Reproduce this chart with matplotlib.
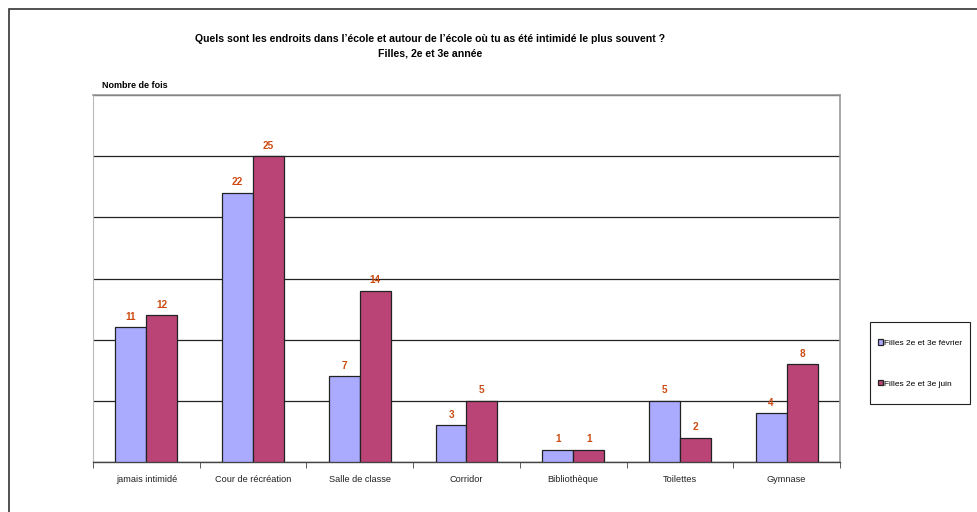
import matplotlib
matplotlib.use("Agg")
import matplotlib.pyplot as plt
import numpy as np
from matplotlib.patches import Rectangle

plt.rcParams['font.family'] = ['Liberation Sans', 'DejaVu Sans']

categories = ["jamais intimidé", "Cour de récréation", "Salle de classe", "Corridor",
              "Bibliothèque", "Toilettes", "Gymnase"]
fevrier = [11, 22, 7, 3, 1, 5, 4]
juin = [12, 25, 14, 5, 1, 2, 8]
series_names = ["Filles 2e et 3e février", "Filles 2e et 3e juin"]
title = "Quels sont les endroits dans l’école et autour de l’école où tu as été intimidé le plus souvent ?\nFilles, 2e et 3e année"
ylabel = "Nombre de fois"

c1 = "#aaaaff"
c2 = "#bb4477"
lab_c = "#cc4a10"

fig = plt.figure(figsize=(9.78, 5.12), dpi=100)
ax = fig.add_axes([93/978, 1-462/512, (840-93)/978, (462-95)/512])

x = np.arange(len(categories))
w = 0.29
b1 = ax.bar(x - w/2, fevrier, w, color=c1, edgecolor="#222222", linewidth=0.9, label=series_names[0], zorder=3)
b2 = ax.bar(x + w/2, juin, w, color=c2, edgecolor="#222222", linewidth=0.9, label=series_names[1], zorder=3)
for bars, vals in ((b1, fevrier), (b2, juin)):
    for r, v in zip(bars, vals):
        ax.text(r.get_x() + r.get_width()/2, v + 0.45, str(v), ha="center", va="bottom",
                fontsize=7.2, fontweight="bold", color=lab_c)

ax.set_xlim(-0.5, len(categories) - 0.5)
ax.set_ylim(0, 30)
ax.set_yticks(np.arange(0, 31, 5))
ax.yaxis.grid(True, color="#222222", linewidth=0.9, zorder=0)
ax.tick_params(axis="y", left=False, labelleft=False)
ax.set_xticks(x)
ax.set_xticklabels(categories, fontsize=6.6, color="#222222")
ax.tick_params(axis="x", length=0, pad=9.5)
ax.set_xticks(np.arange(-0.5, len(categories) + 0.5, 1), minor=True)
ax.tick_params(axis="x", which="minor", length=4, direction="out", color="#444444")
for s in ("top", "right"):
    ax.spines[s].set_color("#999999")
    ax.spines[s].set_linewidth(1.2)
ax.spines["left"].set_color("#bbbbbb")
ax.spines["bottom"].set_color("#444444")
ax.spines["bottom"].set_linewidth(1.0)

fig.text(430/978, 1-34/512, title, ha="center", va="top", fontsize=7.6, fontweight="bold",
         linespacing=1.5)
fig.text(102/978, 1-85/512, ylabel, ha="left", va="center", fontsize=6.5, fontweight="bold")

leg = fig.legend(handles=[b1, b2], loc="center", bbox_to_anchor=(920/978, 1-363.5/512),
                 fontsize=6, frameon=False,
                 handlelength=0.6, handleheight=0.6, handletextpad=0.2, labelspacing=3.95,
                 borderpad=0.3)
fig.add_artist(Rectangle((870/978, 1-404/512), 100/978, 82/512, transform=fig.transFigure,
                         fill=False, edgecolor="#222222", linewidth=0.8))

# outer chart border
fig.add_artist(Rectangle((9/978, -0.05), 1.1, 1-9/512+0.05, transform=fig.transFigure,
                         fill=False, edgecolor="#333333", linewidth=1.2))

fig.savefig("out.png", dpi=100)
